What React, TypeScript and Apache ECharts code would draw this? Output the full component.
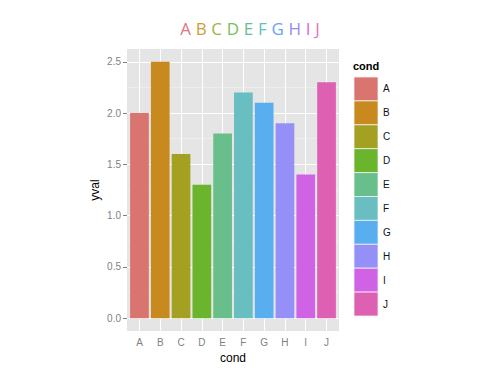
import React, { useEffect, useRef } from "react";
import * as echarts from "echarts";

const categories = ["A", "B", "C", "D", "E", "F", "G", "H", "I", "J"];
const yvals = [2.0, 2.5, 1.6, 1.3, 1.8, 2.2, 2.1, 1.9, 1.4, 2.3];
const colors = ["#D9746E", "#C88A1E", "#A3A022", "#6AB52B", "#69BF8B", "#69BEC1", "#58AEEE", "#9590F7", "#D063E5", "#DD60B3"];
const titleColors = ["#E2747D", "#C9A040", "#9DB43F", "#77BF5A", "#62BF8E", "#66BDC8", "#66A5EE", "#958CF0", "#D26BE0", "#E176C2"];
const yTicks = [0, 0.5, 1.0, 1.5, 2.0, 2.5];
const yMinor = [0.25, 0.75, 1.25, 1.75, 2.25];
const xPositions = [1, 2, 3, 4, 5, 6, 7, 8, 9, 10];

export default function App() {
  const ref = useRef<HTMLDivElement>(null);
  useEffect(() => {
    const chart = echarts.init(ref.current!, null, { renderer: "svg" });
    const rich: any = {};
    categories.forEach((c, i) => {
      rich["t" + i] = {
        color: titleColors[i],
        fontSize: 17,
        fontWeight: "normal",
        fontFamily: "Open Sans",
      };
    });
    const titleText = categories.map((c, i) => `{t${i}|${c}}`).join(" ");

    const panelLeft = 127, panelRight = 339, panelTop = 49, panelBottom = 331;
    const legendX = 354, legendTop = 77, keyW = 24, keyH = 23.9;

    const legendGraphics: any[] = [
      {
        type: "text",
        left: 353,
        top: 60,
        style: { text: "cond", font: "bold 11px 'Liberation Sans', Arial, sans-serif", fill: "#000" },
      },
    ];
    categories.forEach((c, i) => {
      legendGraphics.push({
        type: "rect",
        shape: { x: legendX, y: legendTop + i * keyH, width: keyW, height: keyH },
        style: { fill: colors[i], stroke: "#F2F2F2", lineWidth: 0.8 },
      });
      legendGraphics.push({
        type: "text",
        x: 383,
        y: legendTop + i * keyH + keyH / 2,
        style: {
          text: c,
          font: "10px 'Liberation Sans', Arial, sans-serif",
          fill: "#111",
          verticalAlign: "middle",
        },
      });
    });

    chart.setOption({
      animation: false,
      backgroundColor: "#fff",
      title: {
        text: titleText,
        left: "center",
        top: 15,
        textStyle: { rich, fontSize: 17, fontWeight: "normal" },
      },
      grid: {
        left: panelLeft,
        right: 500 - panelRight,
        top: panelTop,
        bottom: 375 - panelBottom,
        show: true,
        backgroundColor: "#E5E5E5",
        borderWidth: 0,
      },
      xAxis: {
        type: "value",
        min: 0.4,
        max: 10.6,
        name: "cond",
        nameLocation: "middle",
        nameGap: 21,
        nameTextStyle: { color: "#000", fontSize: 12, fontFamily: "Liberation Sans, Arial, sans-serif" },
        axisLine: { show: false },
        splitLine: { show: false },
        axisTick: {
          show: true,
          customValues: xPositions,
          length: 4,
          lineStyle: { color: "#7F7F7F", width: 1 },
        },
        axisLabel: {
          customValues: xPositions,
          formatter: (v: number) => categories[Math.round(v) - 1] ?? "",
          color: "#7F7F7F",
          fontSize: 10,
          margin: 6,
          fontFamily: "Liberation Sans, Arial, sans-serif",
        },
      },
      yAxis: {
        type: "value",
        min: -0.125,
        max: 2.625,
        name: "yval",
        nameLocation: "middle",
        nameGap: 26,
        nameTextStyle: { color: "#000", fontSize: 12, fontFamily: "Liberation Sans, Arial, sans-serif" },
        axisLine: { show: false },
        splitLine: { show: false },
        axisTick: {
          show: true,
          customValues: yTicks,
          length: 4,
          lineStyle: { color: "#7F7F7F", width: 1 },
        },
        axisLabel: {
          customValues: yTicks,
          formatter: (v: number) => v.toFixed(1),
          color: "#7F7F7F",
          fontSize: 10,
          margin: 6,
          fontFamily: "Liberation Sans, Arial, sans-serif",
        },
      },
      series: [
        {
          type: "line",
          data: [],
          silent: true,
          z: 1,
          markLine: {
            silent: true,
            symbol: "none",
            z: 1,
            label: { show: false },
            data: [
              ...yMinor.map((v) => ({ yAxis: v, lineStyle: { color: "#F2F2F2", width: 0.6, type: "solid" } })),
              ...yTicks.map((v) => ({ yAxis: v, lineStyle: { color: "#FFFFFF", width: 1, type: "solid" } })),
              ...xPositions.map((v) => ({ xAxis: v, lineStyle: { color: "#FFFFFF", width: 1, type: "solid" } })),
            ],
          },
        },
        {
          type: "bar",
          z: 3,
          barWidth: 18.7,
          data: yvals.map((v, i) => ({
            value: [i + 1, v],
            itemStyle: { color: colors[i] },
          })),
        },
      ],
      graphic: legendGraphics,
    });
    return () => chart.dispose();
  }, []);
  return (
    <div
      ref={ref}
      style={{ width: 500, height: 375, position: "absolute", left: 0, top: 0 }}
    />
  );
}
